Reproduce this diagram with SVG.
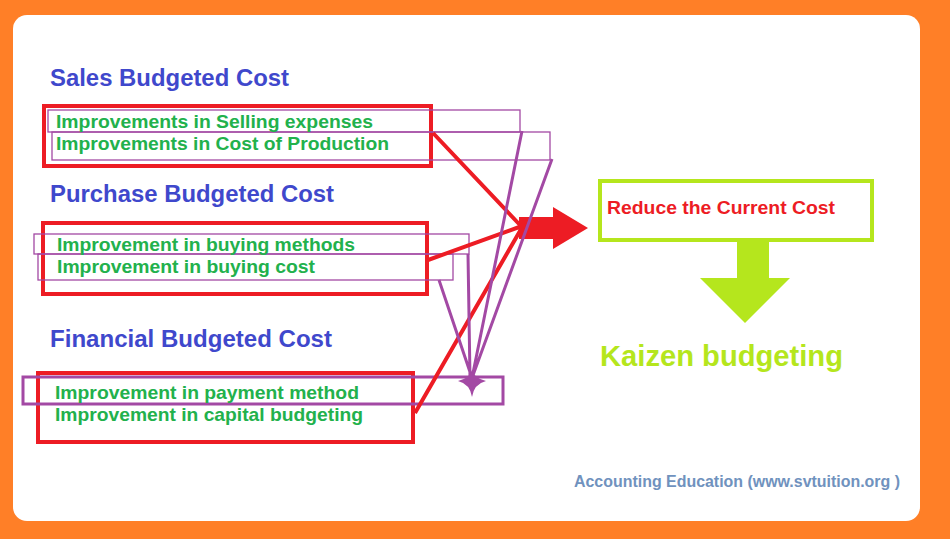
<svg xmlns="http://www.w3.org/2000/svg" width="950" height="539" viewBox="0 0 950 539">
<style>
.h{font:bold 23px "Liberation Sans",Arial,sans-serif;fill:#3F48CC}
.t{font:bold 19px "Liberation Sans",Arial,sans-serif;fill:#22B14C}
.rb{fill:none;stroke:#ED1C24;stroke-width:4}
.pb{fill:none;stroke:#A349A4;stroke-width:1.3}
.rl{stroke:#ED1C24;stroke-width:4;fill:none}
.pl{stroke:#A349A4;stroke-width:3;fill:none}
</style>
<rect width="950" height="539" fill="#FF7F27"/>
<rect x="13" y="15" width="907" height="506" rx="14" fill="#fff"/>
<g id="sales">
<text class="h" x="50" y="86" textLength="239" lengthAdjust="spacingAndGlyphs">Sales Budgeted Cost</text>
<rect class="rb" x="44" y="106" width="387" height="60"/>
<rect class="pb" x="48" y="110" width="472" height="22"/>
<rect class="pb" x="52" y="132" width="498" height="28"/>
<text class="t" x="56" y="128" textLength="317" lengthAdjust="spacingAndGlyphs">Improvements in Selling expenses</text>
<text class="t" x="56" y="150" textLength="333" lengthAdjust="spacingAndGlyphs">Improvements in Cost of Production</text>
</g>
<g id="purchase">
<text class="h" x="50" y="202" textLength="284" lengthAdjust="spacingAndGlyphs">Purchase Budgeted Cost</text>
<rect class="rb" x="43" y="223" width="384" height="71"/>
<rect class="pb" x="34" y="234" width="435" height="20"/>
<rect class="pb" x="38" y="254" width="415" height="26"/>
<text class="t" x="57" y="251" textLength="298" lengthAdjust="spacingAndGlyphs">Improvement in buying methods</text>
<text class="t" x="57" y="273" textLength="258" lengthAdjust="spacingAndGlyphs">Improvement in buying cost</text>
</g>
<g id="financial">
<text class="h" x="50" y="347" textLength="282" lengthAdjust="spacingAndGlyphs">Financial Budgeted Cost</text>
<rect class="rb" x="38" y="373" width="375" height="69"/>
<rect fill="none" stroke="#A349A4" stroke-width="3" x="23" y="377" width="480" height="27"/>
<text class="t" x="55" y="399" textLength="304" lengthAdjust="spacingAndGlyphs">Improvement in payment method</text>
<text class="t" x="55" y="421" textLength="308" lengthAdjust="spacingAndGlyphs">Improvement in capital budgeting</text>
</g>
<g id="connectors">
<path class="rl" d="M433 133 L520 225 M428 260 L522 226 M415 413 L524 224"/>
<path fill="#ED1C24" d="M519 217 L553 217 L553 207 L588 228 L553 249 L553 239 L519 239 Z"/>
<path class="pl" d="M522 131 L472 378 M552 159 L472 378 M468 254 L470 378 M439 280 L472 378"/>
<path fill="#A349A4" d="M472 370 Q474 378 486 381 Q474 384 472 397 Q470 384 458 381 Q470 378 472 370 Z"/>
<path fill="#B5E61D" d="M737 240 L769 240 L769 278 L790 278 L745 323 L700 278 L737 278 Z"/>
</g>
<g id="reduce">
<rect fill="#fff" stroke="#B5E61D" stroke-width="4" x="600" y="181" width="272" height="59"/>
<text x="607" y="214" textLength="228" lengthAdjust="spacingAndGlyphs" style="font:bold 18px 'Liberation Sans',Arial,sans-serif;fill:#ED1C24">Reduce the Current Cost</text>
</g>
<g id="kaizen">
<text x="600" y="366" textLength="243" lengthAdjust="spacingAndGlyphs" style="font:bold 29px 'Liberation Sans',Arial,sans-serif;fill:#B5E61D">Kaizen budgeting</text>
</g>
<text x="574" y="487" textLength="326" lengthAdjust="spacingAndGlyphs" style="font:bold 16px 'Liberation Sans',Arial,sans-serif;fill:#7092BE">Accounting Education (www.svtuition.org )</text>
</svg>
